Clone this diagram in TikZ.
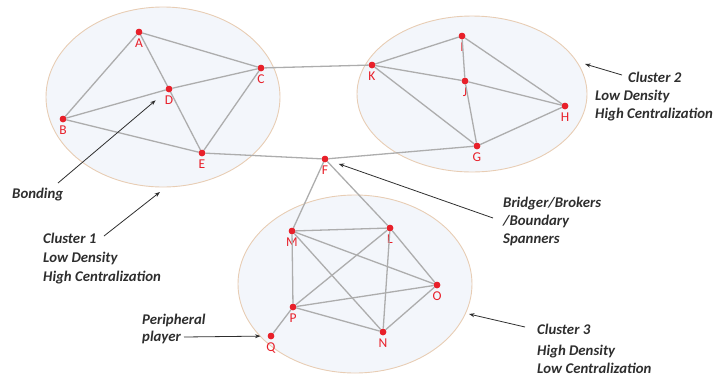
\documentclass[tikz,border=0pt]{standalone}
\usepackage{fontspec}
\setmainfont{Carlito}
\usetikzlibrary{arrows.meta,calc}
\definecolor{dotred}{HTML}{E8202A}
\definecolor{edgegray}{HTML}{ADADAD}
\definecolor{ellfill}{HTML}{F3F6FB}
\definecolor{elldraw}{HTML}{E8CDB4}
\definecolor{anntext}{HTML}{2E2E2E}
\begin{document}
\begin{tikzpicture}[x=1pt,y=-1pt,
  dot/.style={circle,fill=dotred,inner sep=0pt,minimum size=6.5pt},
  lbl/.style={text=dotred,font=\fontsize{13.5}{13.5}\selectfont,inner sep=0pt,label distance=3.5pt},
  tie/.style={draw=edgegray,line width=1.3pt},
  cluster/.style={draw=elldraw,fill=ellfill,line width=0.9pt},
  ann/.style={font=\fontsize{14.8}{18}\selectfont\bfseries\itshape,text=anntext,anchor=base west,inner sep=0pt},
  arr/.style={draw=anntext,line width=0.8pt,-{Stealth[length=5.5pt,width=4pt]}}
]
\useasboundingbox (0,0) rectangle (715,376);
% clusters
\draw[cluster] (163,97) ellipse [x radius=117, y radius=90];
\draw[cluster] (472,94) ellipse [x radius=115, y radius=78];
\draw[cluster] (355,284) ellipse [x radius=117, y radius=89];
% nodes
\node[dot,label={[lbl]below:A}] (A) at (139,32) {};
\node[dot,label={[lbl]below:B}] (B) at (63,119) {};
\node[dot,label={[lbl]below:C}] (C) at (261,68) {};
\node[dot,label={[lbl]below:D}] (D) at (169,89) {};
\node[dot,label={[lbl]below:E}] (E) at (202,153) {};
\node[dot,label={[lbl]below:F}] (F) at (325,159) {};
\node[dot,label={[lbl]below:G}] (G) at (477,146) {};
\node[dot,label={[lbl]below:H}] (H) at (565,106) {};
\node[dot,label={[lbl]below:I}] (I) at (462,36) {};
\node[dot,label={[lbl]below:J}] (J) at (465,81) {};
\node[dot,label={[lbl]below:K}] (K) at (372,65) {};
\node[dot,label={[lbl]below:L}] (L) at (390,228) {};
\node[dot,label={[lbl]below:M}] (M) at (292,231) {};
\node[dot,label={[lbl]below:N}] (N) at (383,332) {};
\node[dot,label={[lbl]below:O}] (O) at (437,285) {};
\node[dot,label={[lbl]below:P}] (P) at (293,307) {};
\node[dot,label={[lbl]below:Q}] (Q) at (271,336) {};
% edges
\foreach \a/\b in {A/C,A/B,A/D,D/C,B/D,B/E,D/E,E/C,C/K,E/F,
                   K/I,K/J,J/H,I/J,I/H,J/G,K/G,G/H,F/G,
                   F/M,F/L,M/L,M/O,M/N,M/P,L/P,L/N,L/O,P/O,P/N,N/O,P/Q}
  \draw[tie] (\a) -- (\b);
% redraw dots on top
\foreach \n in {A,B,C,D,E,F,G,H,I,J,K,L,M,N,O,P,Q}
  \fill[dotred] (\n) circle (3.25pt);
% annotations
\node[ann] (bond) at (12,198) {Bonding};
\node[ann] (c1a) at (43,243) {Cluster 1};
\node[ann] (c1b) at (43,262) {Low Density};
\node[ann] (c1c) at (43,281) {High Centralization};
\node[ann] (c2a) at (628,82) {Cluster 2};
\node[ann] (c2b) at (595,100) {Low Density};
\node[ann] (c2c) at (595,118) {High Centralization};
\node[ann] (bra) at (503,207) {Bridger/Brokers};
\node[ann] (brb) at (503,225) {/Boundary};
\node[ann] (brc) at (503,243) {Spanners};
\node[ann] (c3a) at (537,334) {Cluster 3};
\node[ann] (c3b) at (537,355) {High Density};
\node[ann] (c3c) at (537,373) {Low Centralization};
\node[ann] (ppa) at (142,324) {Peripheral};
\node[ann] (ppb) at (142,341) {player};
% arrows
\coordinate (bondS) at (58,183);
\coordinate (c1S) at (104,236);
\coordinate (c1E) at (160,192);
\coordinate (c2S) at (622,75);
\coordinate (c2E) at (585,64);
\coordinate (brS) at (493,218);
\coordinate (c3S) at (525,327);
\coordinate (c3E) at (469,314);
\coordinate (ppS) at (184,337);
\draw[arr,shorten >=14pt] (bondS) -- (D);
\draw[arr] (c1S) -- (c1E);
\draw[arr] (c2S) -- (c2E);
\draw[arr,shorten >=11pt] (brS) -- (F);
\draw[arr] (c3S) -- (c3E);
\draw[arr,shorten >=7pt] (ppS) -- (Q);
\end{tikzpicture}
\end{document}
